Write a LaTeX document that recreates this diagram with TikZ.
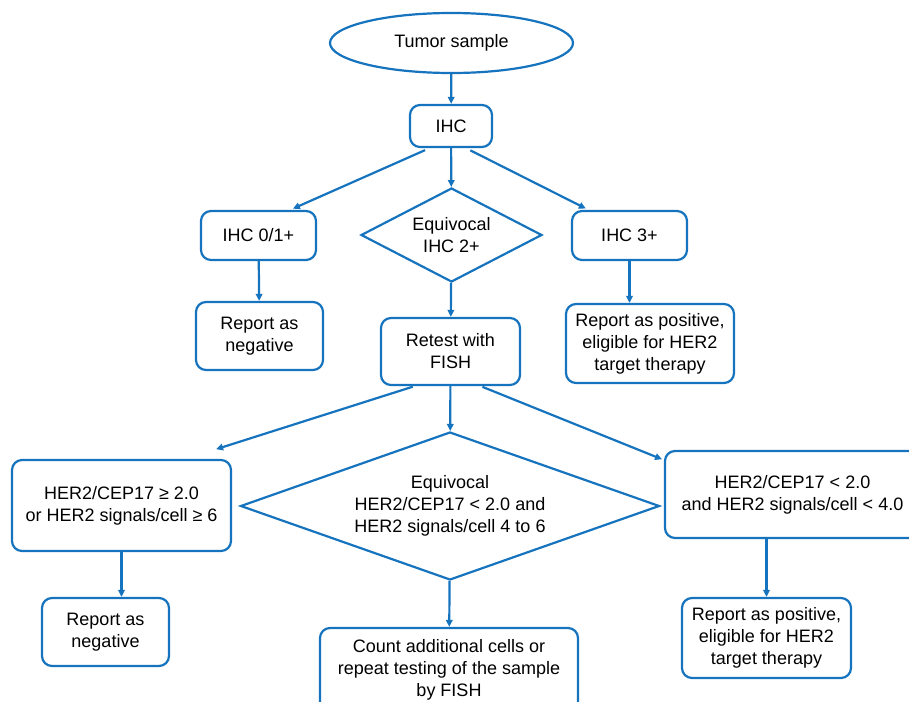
\documentclass[tikz,border=0pt]{standalone}
\usepackage{fontspec}
\setmainfont{Liberation Sans}
\usetikzlibrary{shapes.geometric,arrows.meta,positioning}
\definecolor{flowblue}{RGB}{22,115,190}

\begin{document}
\begin{tikzpicture}[x=1pt, y=-1pt,
        box/.style = {draw=flowblue, line width=2.2pt, rounded corners=10pt,
                      align=center, inner sep=0pt},
        dia/.style = {draw=flowblue, line width=2.2pt, diamond,
                      align=center, inner sep=0pt},
        arr/.style = {flowblue, line width=2.2pt,
                      -{Triangle[length=7pt,width=6.5pt]}},
           font = \fontsize{18}{22}\selectfont
                                ]
        \useasboundingbox (0,0) rectangle (909,701);
        \clip (0,0) rectangle (909,701);
        % IHC part
        \node[box, ellipse, rounded corners=0pt, minimum width=243pt, minimum height=60pt]
            (tumor) at (451.5,43) {Tumor sample};
        \node[box, minimum width=82pt, minimum height=42pt] (ihc) at (451,126) {IHC};
        \node[box, minimum width=115pt, minimum height=49pt] (ihcneg) at (258.5,235.5) {IHC 0/1+};
        \node[dia, aspect=1.93, minimum width=181pt, minimum height=94pt]
            (ihceq) at (451.5,235) {Equivocal\\IHC 2+};
        \node[box, minimum width=115pt, minimum height=49pt] (ihcpos) at (629.5,235.5) {IHC 3+};
        \node[box, minimum width=127pt, minimum height=68pt] (negA) at (259.5,336) {Report as\\negative};
        \node[box, minimum width=139pt, minimum height=67pt] (fish) at (450.5,351.5) {Retest with\\FISH};
        \node[box, minimum width=168pt, minimum height=79pt] (posA) at (650,343.5)
            {Report as positive,\\eligible for HER2\\target therapy};

        % FISH part
        \node[box, minimum width=219pt, minimum height=91pt] (fishhi) at (121.5,505.5)
            {HER2/CEP17 ≥ 2.0\\or HER2 signals/cell ≥ 6};
        \node[dia, aspect=2.83, minimum width=419pt, minimum height=148pt] (fisheq) at (450,506)
            {Equivocal\\HER2/CEP17 < 2.0 and\\HER2 signals/cell 4 to 6};
        \node[box, minimum width=255pt, minimum height=87pt] (fishlo) at (792.5,494.5)
            {HER2/CEP17 < 2.0\\and HER2 signals/cell < 4.0};
        \node[box, minimum width=127pt, minimum height=68pt] (negB) at (105.5,632) {Report as\\negative};
        \node[box, minimum width=258pt, minimum height=84pt] (count) at (449,670)
            {Count additional cells or\\repeat testing of the sample\\by FISH};
        \node[box, minimum width=169pt, minimum height=80pt] (posB) at (766.5,638)
            {Report as positive,\\eligible for HER2\\target therapy};

        % arrows
        \draw[arr] (tumor) -- (ihc);
        \draw[arr, shorten <=5pt, shorten >=3pt] (ihc.226) -- (ihcneg.39);
        \draw[arr] (ihc) -- (ihceq);
        \draw[arr, shorten <=5pt, shorten >=3pt] (ihc.304) -- (ihcpos.148);
        \draw[arr] (ihcneg) -- (negA);
        \draw[arr] (ihcpos.south) -- (ihcpos.south |- posA.north);
        \draw[arr] (ihceq) -- (fish);
        \draw[arr, shorten <=2pt, shorten >=32pt] (fish.224) -- (fishhi.36);
        \draw[arr] (fish) -- (fisheq);
        \draw[arr, shorten <=2pt, shorten >=2pt] (fish.311) -- (fishlo.165);
        \draw[arr] (fishhi.south) -- (fishhi.south |- negB.north);
        \draw[arr] (fisheq) -- (count);
        \draw[arr] (posB.north |- fishlo.south) -- (posB.north);

    \end{tikzpicture}
\end{document}
